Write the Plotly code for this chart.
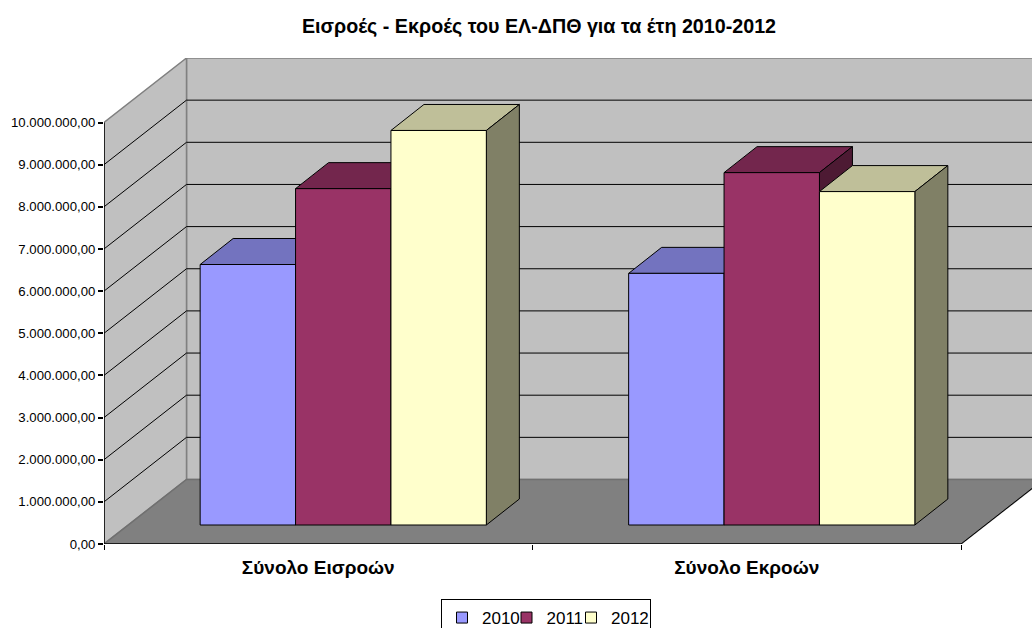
import plotly.graph_objects as go

title = "Εισροές - Εκροές του ΕΛ-ΔΠΘ για τα έτη 2010-2012"
categories = ["Σύνολο Εισροών", "Σύνολο Εκροών"]
years = ["2010", "2011", "2012"]
values_2010 = [6180000, 5970000]
values_2011 = [7980000, 8360000]
values_2012 = [9360000, 7910000]
tick_values = [0, 1000000, 2000000, 3000000, 4000000, 5000000, 6000000, 7000000, 8000000, 9000000, 10000000]
tick_labels = ["0,00", "1.000.000,00", "2.000.000,00", "3.000.000,00", "4.000.000,00", "5.000.000,00",
               "6.000.000,00", "7.000.000,00", "8.000.000,00", "9.000.000,00", "10.000.000,00"]
front_colors = ["#9999FF", "#993366", "#FFFFCC"]
top_colors = ["#7373BF", "#73264D", "#BFBF99"]
side_colors = ["#4D4D80", "#4D1A33", "#808066"]
series = [values_2010, values_2011, values_2012]

FONT = "Liberation Sans"
X_UNIT = 428.5        # px per category
Y_UNIT = 42.15 / 1e6  # px per value
WALL_DX = 82.5 / X_UNIT
WALL_DY = 64.5 / Y_UNIT
BAR_X0 = 25.0 / X_UNIT
BAR_Y0 = 19.0 / Y_UNIT
BAR_DX = 33.0 / X_UNIT
BAR_DY = 26.0 / Y_UNIT
BAR_W = 95.4 / X_UNIT

fig = go.Figure()


def poly(xs, ys, fill, line="#000000", width=1.0):
    fig.add_trace(go.Scatter(x=xs, y=ys, mode="lines", fill="toself", fillcolor=fill,
                             line=dict(color=line, width=width), hoverinfo="skip", showlegend=False))


def seg(xs, ys, color="#000000", width=1.0):
    fig.add_trace(go.Scatter(x=xs, y=ys, mode="lines", line=dict(color=color, width=width),
                             hoverinfo="skip", showlegend=False))


n = len(categories)
top = tick_values[-1]
XR = 3.0
# walls and floor
poly([WALL_DX, XR, XR, WALL_DX, WALL_DX], [WALL_DY, WALL_DY, WALL_DY + top, WALL_DY + top, WALL_DY], "#C0C0C0", "#808080", 1.5)
poly([0, WALL_DX, WALL_DX, 0, 0], [0, WALL_DY, WALL_DY + top, top, 0], "#C0C0C0", "#808080", 1.5)
poly([0, n, n + WALL_DX, WALL_DX, 0], [0, 0, WALL_DY, WALL_DY, 0], "#808080", "#707070", 1.5)
# gridlines
for v in tick_values[1:-1]:
    seg([0, WALL_DX, XR], [v, v + WALL_DY, v + WALL_DY])
# axis lines
seg([0, 0], [0, top], width=1.5)
seg([0, n], [0, 0], width=1.5)
seg([n, n + WALL_DX], [0, WALL_DY], width=1.0)

# bars
for c in range(n):
    for s, vals in enumerate(series):
        v = vals[c]
        xl = c + 0.5 + BAR_X0 + (s - 1.5) * BAR_W
        xr = xl + BAR_W
        yb = BAR_Y0
        yt = BAR_Y0 + v
        poly([xl, xr, xr + BAR_DX, xl + BAR_DX, xl], [yt, yt, yt + BAR_DY, yt + BAR_DY, yt], top_colors[s])
        poly([xr, xr + BAR_DX, xr + BAR_DX, xr, xr], [yb, yb + BAR_DY, yt + BAR_DY, yt, yb], side_colors[s])
        poly([xl, xr, xr, xl, xl], [yb, yb, yt, yt, yb], front_colors[s])

# legend keys
legend_widths = [19.5, 19.5, 34]
for s, y in enumerate(years):
    fig.add_trace(go.Scatter(x=[None], y=[None], mode="markers", name=y, legendwidth=legend_widths[s],
                             marker=dict(symbol="square", size=11, color=front_colors[s],
                                         line=dict(color="#000000", width=1))))

fig.update_layout(
    width=1032, height=628, autosize=False,
    margin=dict(l=104, r=0, t=58, b=84, autoexpand=False),
    paper_bgcolor="#FFFFFF", plot_bgcolor="#FFFFFF",
    font=dict(family=FONT, color="#000000", size=13),
    title=dict(text="<b>" + title + "</b>", x=539 / 1032, xref="container", xanchor="center",
               y=1 - 26 / 628, yanchor="middle", font=dict(family=FONT, size=19.7, color="#000000")),
    xaxis=dict(range=[0, 928 / X_UNIT], showgrid=False, zeroline=False, showline=False,
               tickmode="array", tickvals=[i + 0.5 for i in range(n)], ticktext=["<b>" + c + "</b>" for c in categories],
               ticks="", ticklen=0, tickfont=dict(family=FONT, size=19), ticklabelstandoff=10,
               minor=dict(tickmode="array", tickvals=list(range(n + 1)), ticks="outside", ticklen=5, tickcolor="#000000", tickwidth=1, showgrid=False)),
    yaxis=dict(range=[0, 486 / Y_UNIT], showgrid=False, zeroline=False, showline=False,
               tickmode="array", tickvals=tick_values, ticktext=tick_labels,
               ticks="outside", ticklen=5, tickcolor="#000000", tickwidth=1.5, tickfont=dict(family=FONT, size=13.2)),
    legend=dict(orientation="h", x=(441 - 104) / 928, xanchor="left", y=(544 - 599) / 486, yanchor="top",
                bordercolor="#000000", borderwidth=1, bgcolor="#FFFFFF",
                font=dict(family=FONT, size=17), entrywidthmode="pixels"),
)

fig.write_html("out.html", config={"displayModeBar": False},
               post_script="document.body.style.margin='0';")
